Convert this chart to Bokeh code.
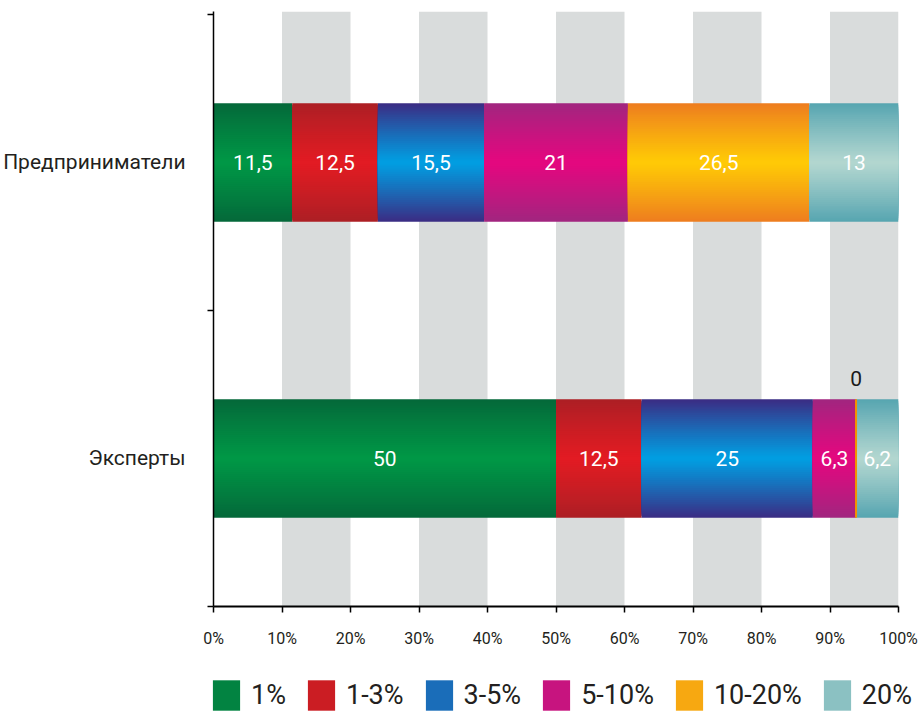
from bokeh.plotting import figure
from bokeh.layouts import column
from bokeh.models import (ColumnDataSource, FixedTicker, Legend, LegendItem, Range1d)
from bokeh.core.properties import value
from bokeh.embed import file_html
from bokeh.resources import INLINE

# ---- data ----
categories = ["Эксперты", "Предприниматели"]          # bottom -> top
series = ["1%", "1-3%", "3-5%", "5-10%", "10-20%", "20%"]
experts = [50, 12.5, 25, 6.3, 0, 6.2]
entrepreneurs = [11.5, 12.5, 15.5, 21, 26.5, 13]
x_ticks = [0, 10, 20, 30, 40, 50, 60, 70, 80, 90, 100]
x_tick_labels = ["0%", "10%", "20%", "30%", "40%", "50%", "60%", "70%", "80%", "90%", "100%"]

# ---- styles ----
edge_colors = ["#04693a", "#ad1f24", "#3a2e85", "#a2257f", "#ee7e1f", "#58a6b1"]
center_colors = ["#009846", "#e31b23", "#00a0e3", "#e5077f", "#ffcb05", "#b4d7d0"]
FONT = "Roboto"
BAR_H = 0.4
N_SLICES = 30

values_by_cat = {"Эксперты": experts, "Предприниматели": entrepreneurs}
cat_pos = {c: i + 0.5 for i, c in enumerate(categories)}


def hex2rgb(h):
    h = h.lstrip("#")
    return [int(h[i:i + 2], 16) for i in (0, 2, 4)]


def lerp(c1, c2, t):
    a, b = hex2rgb(c1), hex2rgb(c2)
    return "#%02x%02x%02x" % tuple(int(round(a[i] + (b[i] - a[i]) * t)) for i in range(3))


p = figure(width=920, height=660, output_backend="svg", toolbar_location=None,
           x_range=Range1d(0, 100), y_range=Range1d(0, 2.01),
           min_border_left=208, min_border_right=22, min_border_top=11,
           min_border_bottom=54)
p.frame_align = False
p.outline_line_color = None
p.grid.visible = False
p.background_fill_color = "white"

# grey background bands
bl = list(range(10, 100, 20))
p.quad(left=bl, right=[b + 10 for b in bl], bottom=0, top=2.01,
       fill_color="#d9dcdc", line_color=None)

# gradient stacked bars: nested bars from the edge colour (full height) to the centre colour
for si, s in enumerate(series):
    ys, lefts, rights, hs, cols = [], [], [], [], []
    for c in categories:
        vals = values_by_cat[c]
        left = sum(vals[:si])
        right = left + vals[si]
        if vals[si] == 0:
            continue
        for k in range(N_SLICES):
            frac = 1 - k / N_SLICES
            ys.append(cat_pos[c])
            lefts.append(left)
            rights.append(right)
            hs.append(BAR_H * frac)
            cols.append(lerp(center_colors[si], edge_colors[si], frac ** 1.1))
    src = ColumnDataSource(dict(y=ys, left=lefts, right=rights, h=hs, color=cols))
    p.hbar(y="y", left="left", right="right", height="h",
           fill_color="color", line_color=None, source=src)

# zero-width segments as thin lines
zy, zx = [], []
for c in categories:
    vals = values_by_cat[c]
    for si, v in enumerate(vals):
        if v == 0:
            zx.append(sum(vals[:si]))
            zy.append(cat_pos[c])
if zx:
    p.segment(x0=zx, x1=zx, y0=[y - BAR_H / 2 for y in zy], y1=[y + BAR_H / 2 for y in zy],
              line_color="#f39200", line_width=2)


def fmt(v):
    return ("%g" % v).replace(".", ",")


# labels
lx, ly, lt = [], [], []
zlx, zly, zlt = [], [], []
for c in categories:
    vals = values_by_cat[c]
    for si, v in enumerate(vals):
        left = sum(vals[:si])
        if v == 0:
            zlx.append(left)
            zly.append(cat_pos[c] + BAR_H / 2 + 0.07)
            zlt.append(fmt(v))
        else:
            lx.append(left + v / 2)
            ly.append(cat_pos[c])
            lt.append(fmt(v))
p.text(x=lx, y=ly, text=lt, text_color="white", text_font=value(FONT),
       text_font_size="21px", text_align="center", text_baseline="middle")
p.text(x=zlx, y=zly, text=zlt, text_color="#1a1a1a", text_font=value(FONT),
       text_font_size="21px", text_align="center", text_baseline="middle")

# axes
p.xaxis.ticker = FixedTicker(ticks=x_ticks)
p.xaxis.major_label_overrides = {t: l for t, l in zip(x_ticks, x_tick_labels)}
p.xaxis.axis_line_width = 2
p.xaxis.axis_line_color = "black"
p.xaxis.major_tick_line_color = "black"
p.xaxis.major_tick_line_width = 1.5
p.xaxis.major_tick_out = 6
p.xaxis.major_tick_in = 0
p.xaxis.minor_tick_line_color = None
p.xaxis.major_label_standoff = 16
p.xaxis.major_label_text_font = FONT
p.xaxis.major_label_text_font_size = "16px"
p.xaxis.major_label_text_color = "#231f20"

p.yaxis.ticker = FixedTicker(ticks=[cat_pos[c] for c in categories], minor_ticks=[0, 1, 2])
p.yaxis.major_label_overrides = {cat_pos[c]: c for c in categories}
p.yaxis.axis_line_width = 1.5
p.yaxis.axis_line_color = "black"
p.yaxis.major_tick_line_color = None
p.yaxis.major_tick_out = 0
p.yaxis.major_tick_in = 0
p.yaxis.minor_tick_line_color = "black"
p.yaxis.minor_tick_line_width = 1.5
p.yaxis.minor_tick_out = 6
p.yaxis.minor_tick_in = 0
p.yaxis.major_label_standoff = 22
p.yaxis.major_label_text_font = FONT
p.yaxis.major_label_text_font_size = "21px"
p.yaxis.major_label_text_color = "#231f20"

# legend strip below the chart
q = figure(width=920, height=54, output_backend="svg", toolbar_location=None,
           x_range=Range1d(0, 1), y_range=Range1d(0, 1),
           x_axis_location=None, y_axis_location=None,
           min_border_left=0, min_border_right=0, min_border_top=0, min_border_bottom=0)
q.frame_align = False
q.outline_line_color = None
q.grid.visible = False
items = []
for i, s in enumerate(series):
    proxy = q.hbar(y=[0], left=[0], right=[0], height=0,
                   fill_color=lerp(center_colors[i], edge_colors[i], 0.45), line_color=None)
    items.append(LegendItem(label=s, renderers=[proxy]))
legend = Legend(items=items, orientation="horizontal", location=(209, 0),
                glyph_width=34, glyph_height=38, label_standoff=8, spacing=18,
                label_text_font=FONT, label_text_font_size="27px",
                label_text_color="#231f20", border_line_color=None,
                background_fill_alpha=0, padding=0, margin=0)
q.add_layout(legend, "center")

layout = column(p, q, spacing=0)
open("out.html", "w").write(file_html(layout, INLINE))
